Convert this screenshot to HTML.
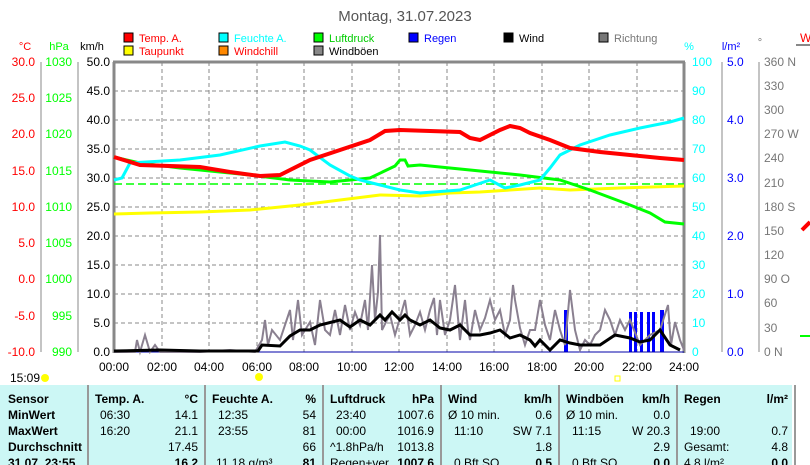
<!DOCTYPE html>
<html><head><meta charset="utf-8"><style>
html,body{margin:0;padding:0;background:#fff;width:810px;height:465px;overflow:hidden}
svg{display:block;font-family:"Liberation Sans",sans-serif}
</style></head><body>
<svg width="810" height="465" viewBox="0 0 810 465" xmlns="http://www.w3.org/2000/svg">
<text x="405" y="21" font-size="15" text-anchor="middle" fill="#555">Montag, 31.07.2023</text>
<!-- legend -->
<g font-size="11">
<rect x="124" y="33" width="9" height="9" fill="#f00" stroke="#000"/><text x="139" y="42" fill="#f00">Temp. A.</text>
<rect x="219" y="33" width="9" height="9" fill="#0ff" stroke="#000"/><text x="234" y="42" fill="#0ff">Feuchte A.</text>
<rect x="314" y="33" width="9" height="9" fill="#0f0" stroke="#000"/><text x="329" y="42" fill="#0c0">Luftdruck</text>
<rect x="409" y="33" width="9" height="9" fill="#00f" stroke="#000"/><text x="424" y="42" fill="#00f">Regen</text>
<rect x="504" y="33" width="9" height="9" fill="#000" stroke="#000"/><text x="519" y="42" fill="#000">Wind</text>
<rect x="599" y="33" width="9" height="9" fill="#777" stroke="#000"/><text x="614" y="42" fill="#777">Richtung</text>
<rect x="124" y="46" width="9" height="9" fill="#ff0" stroke="#000"/><text x="139" y="55" fill="#f00">Taupunkt</text>
<rect x="219" y="46" width="9" height="9" fill="#f80" stroke="#000"/><text x="234" y="55" fill="#f00">Windchill</text>
<rect x="314" y="46" width="9" height="9" fill="#888" stroke="#000"/><text x="329" y="55" fill="#000">Windböen</text>
</g>
<!-- unit headers -->
<g font-size="11">
<text x="25" y="50" text-anchor="middle" fill="#f00">°C</text>
<text x="59" y="50" text-anchor="middle" fill="#0f0">hPa</text>
<text x="92" y="50" text-anchor="middle" fill="#000">km/h</text>
<text x="689" y="50" text-anchor="middle" fill="#0ff">%</text>
<text x="731" y="50" text-anchor="middle" fill="#00f">l/m²</text>
<text x="760" y="46" text-anchor="middle" fill="#777">°</text>
</g>
<!-- grid -->
<g stroke="#888" stroke-dasharray="4,3" stroke-width="1">
<line x1="114" y1="120" x2="684" y2="120"/><line x1="114" y1="178" x2="684" y2="178"/><line x1="114" y1="236" x2="684" y2="236"/><line x1="114" y1="294" x2="684" y2="294"/>
<line x1="114" y1="91" x2="684" y2="91"/><line x1="114" y1="149" x2="684" y2="149"/><line x1="114" y1="207" x2="684" y2="207"/><line x1="114" y1="265" x2="684" y2="265"/><line x1="114" y1="323" x2="684" y2="323"/>
<line x1="162" y1="62" x2="162" y2="352"/><line x1="209" y1="62" x2="209" y2="352"/><line x1="257" y1="62" x2="257" y2="352"/><line x1="304" y1="62" x2="304" y2="352"/><line x1="352" y1="62" x2="352" y2="352"/><line x1="399" y1="62" x2="399" y2="352"/><line x1="447" y1="62" x2="447" y2="352"/><line x1="494" y1="62" x2="494" y2="352"/><line x1="542" y1="62" x2="542" y2="352"/><line x1="589" y1="62" x2="589" y2="352"/><line x1="637" y1="62" x2="637" y2="352"/>
</g>
<!-- frame -->
<g stroke="#888" stroke-width="3" fill="none"><line x1="114" y1="62" x2="114" y2="353"/><line x1="684" y1="62" x2="684" y2="353"/><line x1="113" y1="62" x2="685" y2="62"/></g>
<!-- left axes -->
<g stroke="#888"><line x1="41" y1="62" x2="41" y2="352"/><line x1="78" y1="62" x2="78" y2="352"/><line x1="722" y1="62" x2="722" y2="352"/><line x1="759" y1="62" x2="759" y2="352"/></g>
<g font-size="12" fill="#f00" text-anchor="end">
<text x="35" y="66">30.0</text><text x="35" y="102">25.0</text><text x="35" y="138">20.0</text><text x="35" y="175">15.0</text><text x="35" y="211">10.0</text><text x="35" y="247">5.0</text><text x="35" y="283">0.0</text><text x="35" y="320">-5.0</text><text x="35" y="356">-10.0</text>
</g>
<g font-size="12" fill="#0f0" text-anchor="end">
<text x="72" y="66">1030</text><text x="72" y="102">1025</text><text x="72" y="138">1020</text><text x="72" y="175">1015</text><text x="72" y="211">1010</text><text x="72" y="247">1005</text><text x="72" y="283">1000</text><text x="72" y="320">995</text><text x="72" y="356">990</text>
</g>
<g font-size="12" fill="#000" text-anchor="end">
<text x="110" y="66">50.0</text><text x="110" y="95">45.0</text><text x="110" y="124">40.0</text><text x="110" y="153">35.0</text><text x="110" y="182">30.0</text><text x="110" y="211">25.0</text><text x="110" y="240">20.0</text><text x="110" y="269">15.0</text><text x="110" y="298">10.0</text><text x="110" y="327">5.0</text><text x="110" y="356">0.0</text>
</g>
<g font-size="12" fill="#0ff">
<text x="692" y="66">100</text><text x="692" y="95">90</text><text x="692" y="124">80</text><text x="692" y="153">70</text><text x="692" y="182">60</text><text x="692" y="211">50</text><text x="692" y="240">40</text><text x="692" y="269">30</text><text x="692" y="298">20</text><text x="692" y="327">10</text><text x="692" y="356">0</text>
</g>
<g font-size="12" fill="#00f">
<text x="727" y="66">5.0</text><text x="727" y="124">4.0</text><text x="727" y="182">3.0</text><text x="727" y="240">2.0</text><text x="727" y="298">1.0</text><text x="727" y="356">0.0</text>
</g>
<g font-size="12" fill="#777">
<text x="764" y="66">360 N</text><text x="764" y="90">330</text><text x="764" y="114">300</text><text x="764" y="138">270 W</text><text x="764" y="162">240</text><text x="764" y="187">210</text><text x="764" y="211">180 S</text><text x="764" y="235">150</text><text x="764" y="259">120</text><text x="764" y="283">90  O</text><text x="764" y="307">60</text><text x="764" y="332">30</text><text x="764" y="356">0   N</text>
</g>
<!-- x labels -->
<g font-size="12" fill="#000" text-anchor="middle">
<text x="114" y="371">00:00</text><text x="162" y="371">02:00</text><text x="209" y="371">04:00</text><text x="257" y="371">06:00</text><text x="304" y="371">08:00</text><text x="352" y="371">10:00</text><text x="399" y="371">12:00</text><text x="447" y="371">14:00</text><text x="494" y="371">16:00</text><text x="542" y="371">18:00</text><text x="589" y="371">20:00</text><text x="637" y="371">22:00</text><text x="684" y="371">24:00</text>
</g>
<text x="10" y="382" font-size="12">15:09</text>
<circle cx="45" cy="378" r="4" fill="#ff0"/>
<circle cx="259" cy="377" r="4" fill="#ff0"/>
<rect x="615" y="376" width="5" height="5" fill="none" stroke="#ff0"/>
<!-- rain -->
<g fill="#00f"><rect x="564" y="310" width="4" height="42"/><rect x="629" y="312" width="3" height="40"/><rect x="634" y="312" width="3" height="40"/><rect x="640" y="312" width="3" height="40"/><rect x="647" y="312" width="3" height="40"/><rect x="652" y="312" width="3" height="40"/><rect x="660" y="310" width="4" height="42"/></g>
<line x1="114" y1="352" x2="684" y2="352" stroke="#00a" stroke-width="1"/>
<!-- gusts -->
<polyline fill="none" stroke="#8a8090" stroke-width="2" points="114,352 135,352 137,340 140,352 145,335 150,352 155,345 160,352 200,352 230,350 255,352 262,340 265,320 268,345 272,330 280,340 290,310 293,340 298,300 302,335 310,322 315,345 320,300 325,330 330,335 335,310 340,335 345,305 350,330 355,312 360,325 365,300 368,330 372,265 375,320 378,292 380,235 382,330 386,322 390,315 395,335 400,318 405,300 410,335 415,325 420,312 425,330 430,310 434,298 437,335 440,300 445,335 450,320 455,285 460,340 465,300 468,330 470,340 475,310 480,330 485,318 490,300 495,320 500,310 505,335 510,320 513,285 515,300 520,328 525,345 530,330 535,330 540,300 545,325 550,340 555,310 560,330 565,345 570,290 575,330 580,350 585,340 590,345 595,335 600,330 605,310 610,320 615,335 620,320 625,330 630,320 640,345 650,335 660,330 668,305 671,345 675,322 680,340 684,350"/>
<!-- wind -->
<polyline fill="none" stroke="#000" stroke-width="3" points="114,351 160,350 200,351 258,351 262,345 280,346 290,336 300,330 310,330 320,325 340,320 350,327 360,320 370,325 380,315 385,320 392,312 400,320 405,315 410,320 420,325 430,320 440,328 450,330 460,325 470,335 480,335 490,333 500,330 510,338 520,335 530,340 535,346 540,340 550,350 560,340 570,343 580,345 600,345 615,335 630,338 640,342 650,340 660,330 670,345 680,350"/>
<!-- dashed green -->
<line x1="114" y1="184" x2="684" y2="184" stroke="#0f0" stroke-width="1.5" stroke-dasharray="8,4"/>
<!-- dewpoint -->
<polyline fill="none" stroke="#ff0" stroke-width="3" points="114,214 150,213 200,212 250,210 300,205 340,200 380,195 420,196 450,193 480,192 540,188 570,190 620,188 684,186"/>
<!-- pressure -->
<polyline fill="none" stroke="#0f0" stroke-width="3" points="114,157 140,163 180,168 250,175 290,180 330,182 370,178 395,166 400,160 405,160 408,166 420,165 470,170 520,175 560,180 590,190 630,205 650,213 665,222 684,224"/>
<!-- humidity -->
<polyline fill="none" stroke="#0ff" stroke-width="3" points="114,180 122,178 130,163 180,160 220,155 260,146 285,142 300,146 310,150 330,165 350,176 360,180 380,185 400,190 420,193 460,190 490,180 505,188 520,185 540,180 550,168 560,155 580,145 610,135 640,128 670,122 684,118"/>
<!-- temp -->
<polyline fill="none" stroke="#f00" stroke-width="4" points="114,157 140,165 200,167 230,172 260,176 280,175 310,160 340,150 370,140 385,131 400,130 460,132 470,138 480,140 500,130 510,126 520,128 530,133 550,140 570,148 600,152 630,155 660,158 684,160"/>
<!-- right edge artifacts -->
<text x="800" y="42" font-size="12" fill="#f00">W</text>
<line x1="796" y1="45" x2="810" y2="45" stroke="#888" stroke-width="2"/>
<line x1="802" y1="230" x2="810" y2="222" stroke="#f00" stroke-width="4"/>
<line x1="800" y1="336" x2="810" y2="336" stroke="#0f0" stroke-width="2"/>
<!-- table -->
<rect x="0" y="385" width="792" height="80" fill="#ccf7f5"/>
<g stroke="#999" stroke-width="2"><line x1="88" y1="385" x2="88" y2="465"/><line x1="205" y1="385" x2="205" y2="465"/><line x1="323" y1="385" x2="323" y2="465"/><line x1="441" y1="385" x2="441" y2="465"/><line x1="559" y1="385" x2="559" y2="465"/><line x1="677" y1="385" x2="677" y2="465"/><line x1="795" y1="385" x2="795" y2="465"/></g>
<g font-size="12" fill="#000">
<g font-weight="bold"><text x="8" y="403">Sensor</text><text x="8" y="419">MinWert</text><text x="8" y="435">MaxWert</text><text x="8" y="451">Durchschnitt</text><text x="8" y="467">31.07. 23:55</text>
<text x="95" y="403">Temp. A.</text><text x="198" y="403" text-anchor="end">°C</text>
<text x="212" y="403">Feuchte A.</text><text x="316" y="403" text-anchor="end">%</text>
<text x="330" y="403">Luftdruck</text><text x="434" y="403" text-anchor="end">hPa</text>
<text x="448" y="403">Wind</text><text x="552" y="403" text-anchor="end">km/h</text>
<text x="566" y="403">Windböen</text><text x="670" y="403" text-anchor="end">km/h</text>
<text x="684" y="403">Regen</text><text x="788" y="403" text-anchor="end">l/m²</text>
<text x="198" y="467" text-anchor="end">16.2</text><text x="316" y="467" text-anchor="end">81</text><text x="434" y="467" text-anchor="end">1007.6</text><text x="552" y="467" text-anchor="end">0.5</text><text x="670" y="467" text-anchor="end">0.0</text><text x="788" y="467" text-anchor="end">0.0</text></g>
<text x="100" y="419">06:30</text><text x="198" y="419" text-anchor="end">14.1</text>
<text x="100" y="435">16:20</text><text x="198" y="435" text-anchor="end">21.1</text>
<text x="198" y="451" text-anchor="end">17.45</text>
<text x="218" y="419">12:35</text><text x="316" y="419" text-anchor="end">54</text>
<text x="218" y="435">23:55</text><text x="316" y="435" text-anchor="end">81</text>
<text x="316" y="451" text-anchor="end">66</text><text x="216" y="467">11.18 g/m³</text>
<text x="336" y="419">23:40</text><text x="434" y="419" text-anchor="end">1007.6</text>
<text x="336" y="435">00:00</text><text x="434" y="435" text-anchor="end">1016.9</text>
<text x="330" y="451">^1.8hPa/h</text><text x="434" y="451" text-anchor="end">1013.8</text><text x="330" y="467">Regen+ver</text>
<text x="448" y="419">Ø 10 min.</text><text x="552" y="419" text-anchor="end">0.6</text>
<text x="454" y="435">11:10</text><text x="552" y="435" text-anchor="end">SW 7.1</text>
<text x="552" y="451" text-anchor="end">1.8</text><text x="454" y="467">0 Bft SO</text>
<text x="566" y="419">Ø 10 min.</text><text x="670" y="419" text-anchor="end">0.0</text>
<text x="572" y="435">11:15</text><text x="670" y="435" text-anchor="end">W 20.3</text>
<text x="670" y="451" text-anchor="end">2.9</text><text x="572" y="467">0 Bft SO</text>
<text x="690" y="435">19:00</text><text x="788" y="435" text-anchor="end">0.7</text>
<text x="684" y="451">Gesamt:</text><text x="788" y="451" text-anchor="end">4.8</text><text x="684" y="467">4.8 l/m²</text>
</g>
</svg>
</body></html>
